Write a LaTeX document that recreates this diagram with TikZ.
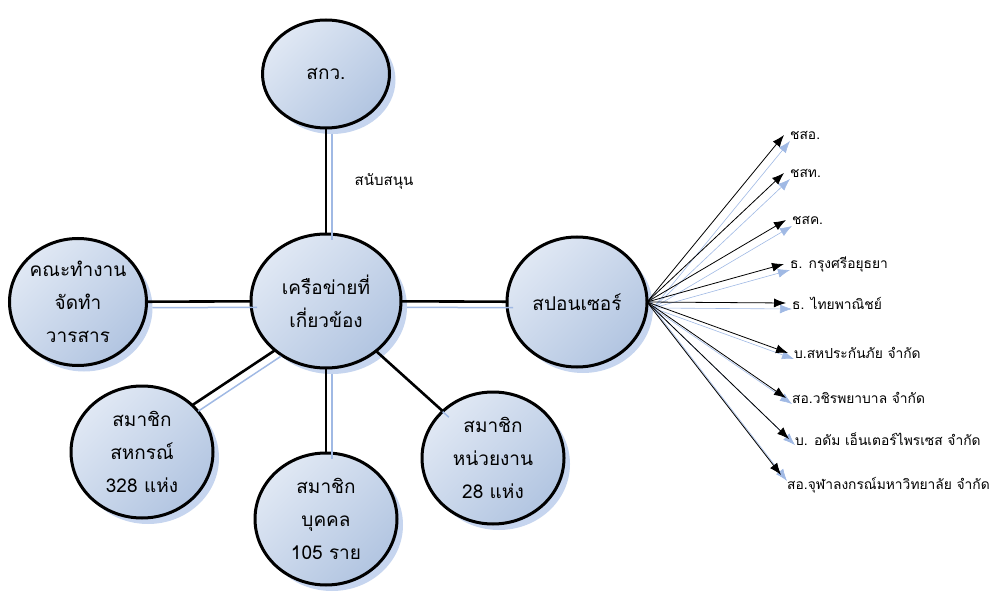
\documentclass[tikz,border=0pt]{standalone}
\usepackage{fontspec}
\newfontfamily\thai[Script=Thai]{Loma}
\usetikzlibrary{shapes,arrows.meta,shadows}
\definecolor{cirlight}{RGB}{224,232,244}
\definecolor{cirdark}{RGB}{178,197,225}
\definecolor{shd}{RGB}{160,185,228}
\tikzset{
  blob/.style={ellipse, draw, line width=3pt, inner sep=0pt, outer sep=0pt,
    minimum width=142pt, minimum height=132pt,
    top color=cirlight, bottom color=cirdark, shading angle=45,
    drop shadow={shadow xshift=6pt, shadow yshift=-6pt, fill=shd, opacity=0.6},
    align=center, font=\thai\fontsize{19}{33}\selectfont},
  link/.style={line width=2.6pt},
  linkshd/.style={draw=shd, line width=1.5pt, transform canvas={shift={(6pt,-6pt)}}},
  lbl/.style={anchor=west, inner xsep=6pt, inner ysep=2pt, font=\thai\fontsize{13.8}{17}\selectfont},
  arr/.style={-{Latex[length=12pt,width=9pt]}, line width=0.8pt},
  arrshd/.style={-{Latex[length=12pt,width=9pt]}, draw=shd, line width=0.6pt, transform canvas={shift={(6pt,-6pt)}}}
}
\begin{document}
\begin{tikzpicture}[x=1pt,y=-1pt]
\useasboundingbox (0,0) rectangle (1006,593);

\node[blob, minimum width=127pt, minimum height=108pt] (skw) at (326,74) {สกว.};
\node[blob, minimum width=150pt, minimum height=134pt] (net) at (326,301) {เครือข่ายที่\\เกี่ยวข้อง};
\node[blob, minimum width=137pt, minimum height=127pt] (team) at (78,302) {คณะทำงาน\\จัดทำ\\วารสาร};
\node[blob] (coop) at (142,452) {สมาชิก\\สหกรณ์\\328 แห่ง};
\node[blob] (person) at (326,519) {สมาชิก\\บุคคล\\105 ราย};
\node[blob] (unit) at (493,458) {สมาชิก\\หน่วยงาน\\28 แห่ง};
\node[blob, minimum width=140pt, minimum height=130pt] (sp) at (577,302) {สปอนเซอร์};

\node[lbl, anchor=center, font=\thai\fontsize{15}{18}\selectfont] (support) at (384,181) {สนับสนุน};

\node[lbl] (chso) at (784,135) {ชสอ.};
\node[lbl] (chst) at (784,173) {ชสท.};
\node[lbl] (chsk) at (786,220) {ชสค.};
\node[lbl] (krungsri) at (784,264) {ธ. กรุงศรีอยุธยา};
\node[lbl] (thaipanich) at (786,303) {ธ. ไทยพาณิชย์};
\node[lbl] (sahaprakan) at (788,353) {บ.สหประกันภัย จำกัด};
\node[lbl] (wachira) at (786,398) {สอ.วชิรพยาบาล จำกัด};
\node[lbl] (adam) at (789,439) {บ. อดัม เอ็นเตอร์ไพรเซส จำกัด};
\node[lbl] (chula) at (781,485) {สอ.จุฬาลงกรณ์มหาวิทยาลัย จำกัด};

\draw[linkshd] (skw)--(net);
\draw[linkshd] (team)--(net);
\draw[linkshd] (net)--(sp);
\draw[linkshd] (net)--(person);
\draw[linkshd] (net.224)--(coop.43);
\draw[linkshd] (net.315)--(unit.137);

\draw[link] (skw)--(net);
\draw[link] (team)--(net);
\draw[link] (net)--(sp);
\draw[link] (net)--(person);
\draw[link] (net.224)--(coop.43);
\draw[link] (net.315)--(unit.137);

\foreach \n in {chso,chst,chsk,krungsri,thaipanich,sahaprakan,wachira,adam}
  \draw[arrshd] (sp.east)--(\n.west);
\draw[arrshd] (sp.east)--(chula.north west);
\foreach \n in {chso,chst,chsk,krungsri,thaipanich,sahaprakan,wachira,adam}
  \draw[arr] (sp.east)--(\n.west);
\draw[arr] (sp.east)--(chula.north west);

\end{tikzpicture}
\end{document}
